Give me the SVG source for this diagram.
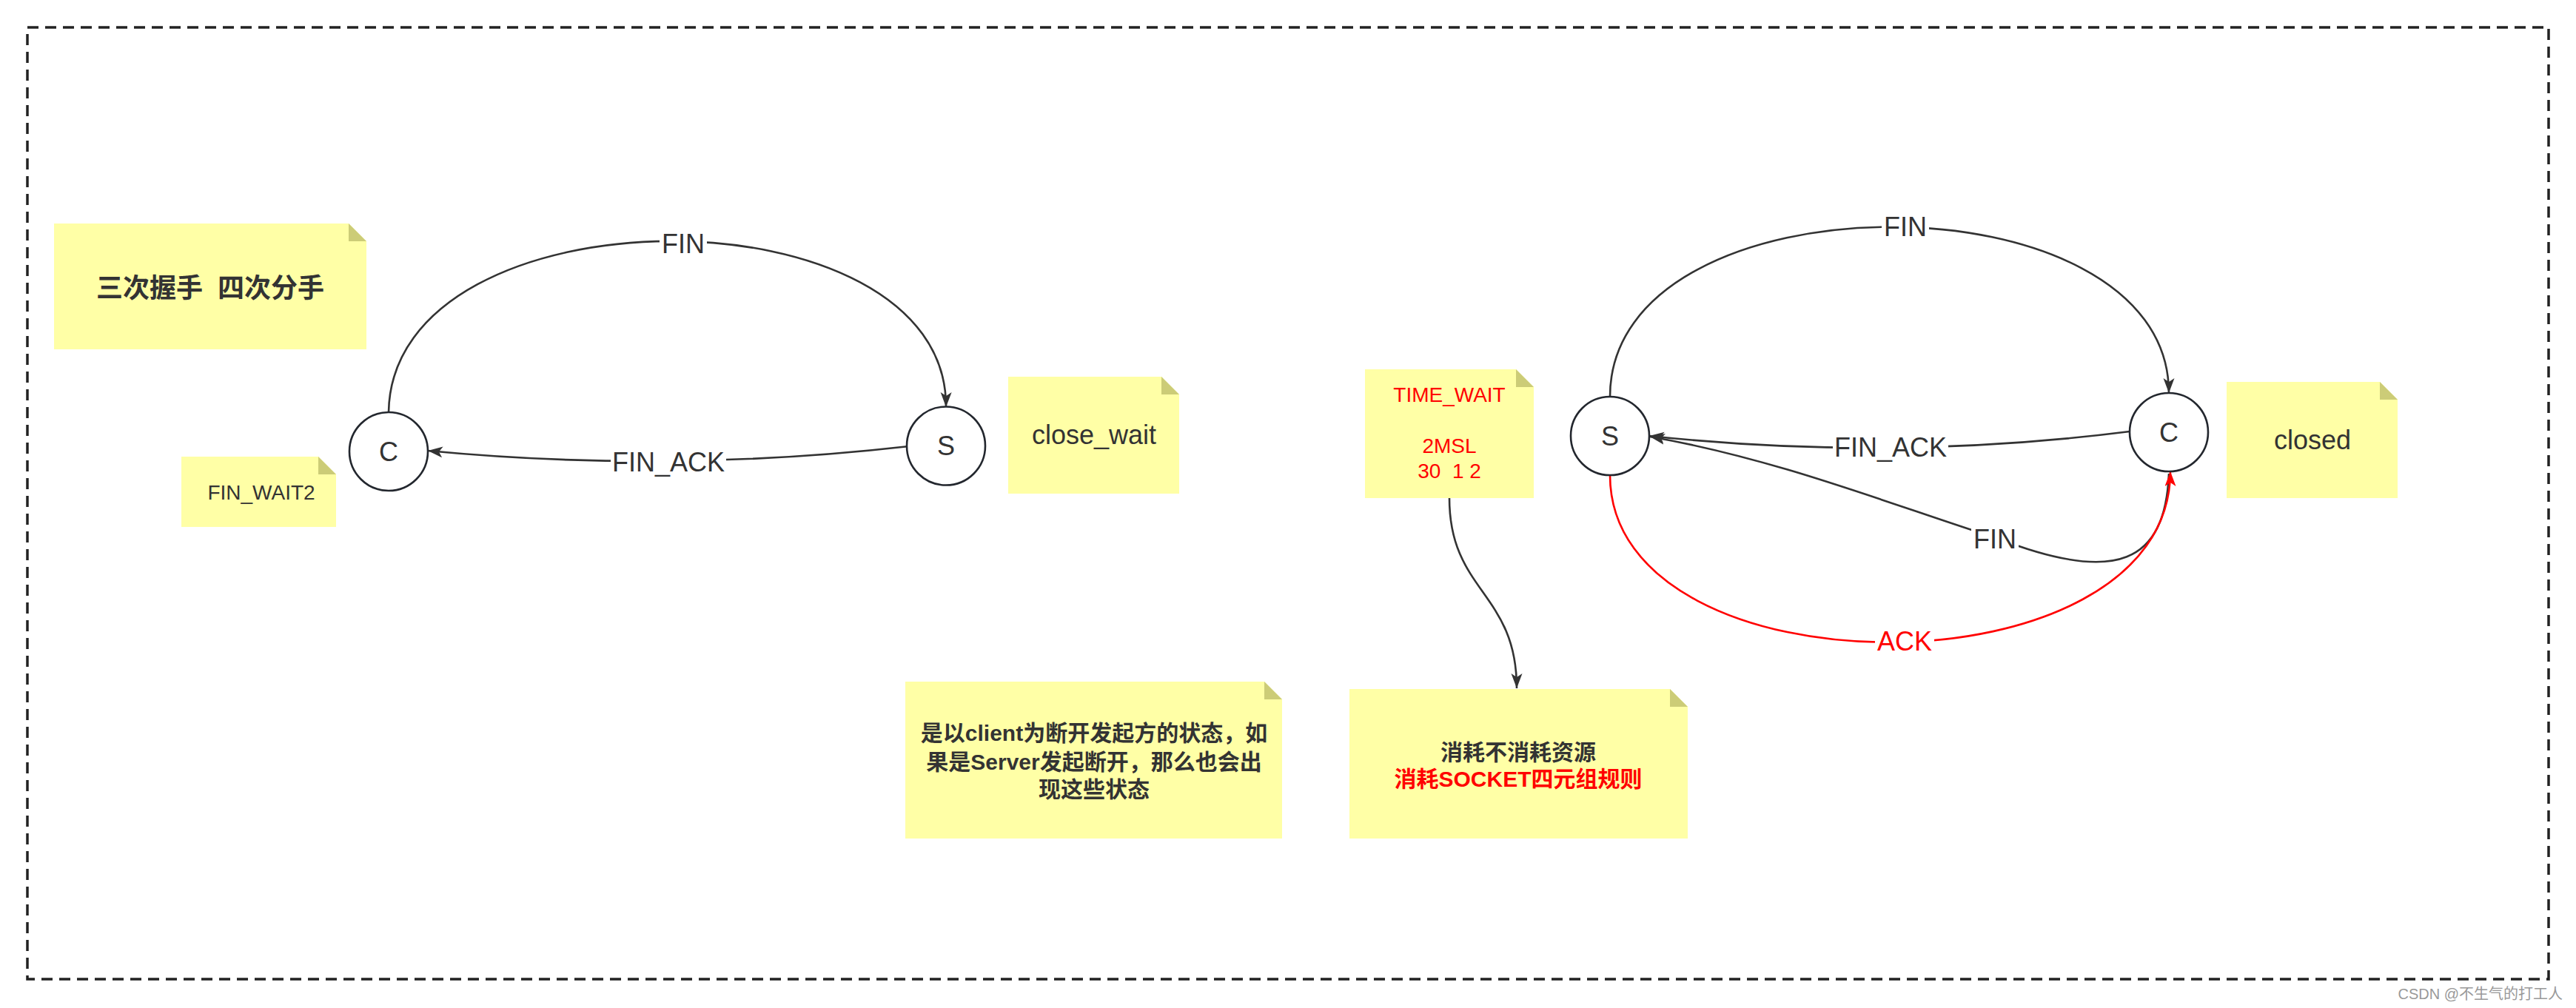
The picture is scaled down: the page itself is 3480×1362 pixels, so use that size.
<svg xmlns="http://www.w3.org/2000/svg" width="3480" height="1362" viewBox="0 0 3480 1362">
<style>
.note{fill:#FFFFA6}
.fold{fill:#CCCC77}
.circ{fill:#fff;stroke:#23272e;stroke-width:2.6}
.t{font-family:"Liberation Sans","Noto Sans CJK SC",sans-serif;fill:#333;text-anchor:middle}
.b{font-weight:bold}
.red{fill:#f00}
.edge{fill:none;stroke:#333;stroke-width:2.6}
.edge.r{stroke:#f00}
.lbg{fill:#fff}
</style>
<defs>
<marker id="arr" markerUnits="userSpaceOnUse" markerWidth="22" markerHeight="16" refX="20" refY="7.5" orient="auto">
<path d="M0,0 L20,7.5 L0,15 L5,7.5 Z" fill="#333"/>
</marker>
<marker id="arrR" markerUnits="userSpaceOnUse" markerWidth="22" markerHeight="16" refX="20" refY="7.5" orient="auto">
<path d="M0,0 L20,7.5 L0,15 L5,7.5 Z" fill="#f00"/>
</marker>
</defs>
<rect width="3480" height="1362" fill="#fff"/>
<rect id="frame" x="37" y="37" width="3406" height="1286" fill="none" stroke="#222" stroke-width="3.5" stroke-dasharray="15 9"/>

<g id="connectors">
<path class="edge" d="M525,557 C530,250 1280,250 1278,550" marker-end="url(#arr)"/>
<path class="edge" d="M1228,603 Q903,640 578,609" marker-end="url(#arr)"/>
<path class="edge" d="M1958,673 C1958,800 2049,800 2049,930" marker-end="url(#arr)"/>
<path class="edge" d="M2175,536 C2175,231 2930,231 2930,531" marker-end="url(#arr)"/>
<path class="edge" d="M2877,583 Q2554,624 2228,589" marker-end="url(#arr)"/>
<path class="edge" d="M2930,640 C2925,760 2860,790 2700,728 C2550,680 2400,620 2229,590" marker-end="url(#arr)"/>
<path class="edge r" d="M2175,642 C2175,944 2932,944 2932,637" marker-end="url(#arrR)"/>
<g id="edge-labels">
<rect class="lbg" x="891" y="311" width="64" height="36"/>
<text class="t" x="923" y="342" font-size="36">FIN</text>
<rect class="lbg" x="825" y="606" width="156" height="36"/>
<text class="t" x="903" y="637" font-size="36">FIN_ACK</text>
<rect class="lbg" x="2542" y="288" width="64" height="36"/>
<text class="t" x="2574" y="319" font-size="36">FIN</text>
<rect class="lbg" x="2476" y="586" width="156" height="36"/>
<text class="t" x="2554" y="617" font-size="36">FIN_ACK</text>
<rect class="lbg" x="2663" y="710" width="64" height="36"/>
<text class="t" x="2695" y="741" font-size="36">FIN</text>
<rect class="lbg" x="2533" y="848" width="80" height="36"/>
<text class="t red" x="2573" y="879" font-size="36">ACK</text>
</g>
</g>

<g id="note-title">
<path class="note" d="M73,302 H471 L495,326 V472 H73 Z"/>
<path class="fold" d="M471,302 V326 H495 Z"/>
<text class="t b" x="284" y="402" font-size="36" xml:space="preserve">三次握手  四次分手</text>
</g>

<g id="note-finwait2">
<path class="note" d="M245,617 H430 L454,641 V712 H245 Z"/>
<path class="fold" d="M430,617 V641 H454 Z"/>
<text class="t" x="353" y="675" font-size="28">FIN_WAIT2</text>
</g>

<g id="node-c-left">
<circle class="circ" cx="525" cy="610" r="53"/>
<text class="t" x="525" y="623" font-size="36">C</text>
</g>

<g id="node-s-left">
<circle class="circ" cx="1278" cy="602.5" r="53"/>
<text class="t" x="1278" y="615" font-size="36">S</text>
</g>

<g id="note-closewait">
<path class="note" d="M1362,509 H1569 L1593,533 V667 H1362 Z"/>
<path class="fold" d="M1569,509 V533 H1593 Z"/>
<text class="t" x="1478" y="600" font-size="36">close_wait</text>
</g>

<g id="note-timewait">
<path class="note" d="M1844,499 H2048 L2072,523 V673 H1844 Z"/>
<path class="fold" d="M2048,499 V523 H2072 Z"/>
<text class="t red" font-size="28" xml:space="preserve"><tspan x="1958" y="543">TIME_WAIT</tspan><tspan x="1958" y="612">2MSL</tspan><tspan x="1958" y="646">30  1 2</tspan></text>
</g>

<g id="node-s-right">
<circle class="circ" cx="2175" cy="589" r="53"/>
<text class="t" x="2175" y="602" font-size="36">S</text>
</g>

<g id="node-c-right">
<circle class="circ" cx="2930" cy="584" r="53"/>
<text class="t" x="2930" y="597" font-size="36">C</text>
</g>

<g id="note-closed">
<path class="note" d="M3008,516 H3215 L3239,540 V673 H3008 Z"/>
<path class="fold" d="M3215,516 V540 H3239 Z"/>
<text class="t" x="3124" y="607" font-size="36">closed</text>
</g>

<g id="note-client">
<path class="note" d="M1223,921 H1708 L1732,945 V1133 H1223 Z"/>
<path class="fold" d="M1708,921 V945 H1732 Z"/>
<text class="t b" font-size="30"><tspan x="1478" y="1001">是以client为断开发起方的状态，如</tspan><tspan x="1478" y="1040">果是Server发起断开，那么也会出</tspan><tspan x="1478" y="1077">现这些状态</tspan></text>
</g>

<g id="note-resource">
<path class="note" d="M1823,931 H2256 L2280,955 V1133 H1823 Z"/>
<path class="fold" d="M2256,931 V955 H2280 Z"/>
<text class="t b" font-size="30"><tspan x="2051" y="1027">消耗不消耗资源</tspan><tspan x="2051" y="1063" fill="#f00">消耗SOCKET四元组规则</tspan></text>
</g>

<text x="3462" y="1350" font-size="20" fill="#999" text-anchor="end" font-family="Liberation Sans,'Noto Sans CJK SC',sans-serif">CSDN @不生气的打工人</text>
</svg>
